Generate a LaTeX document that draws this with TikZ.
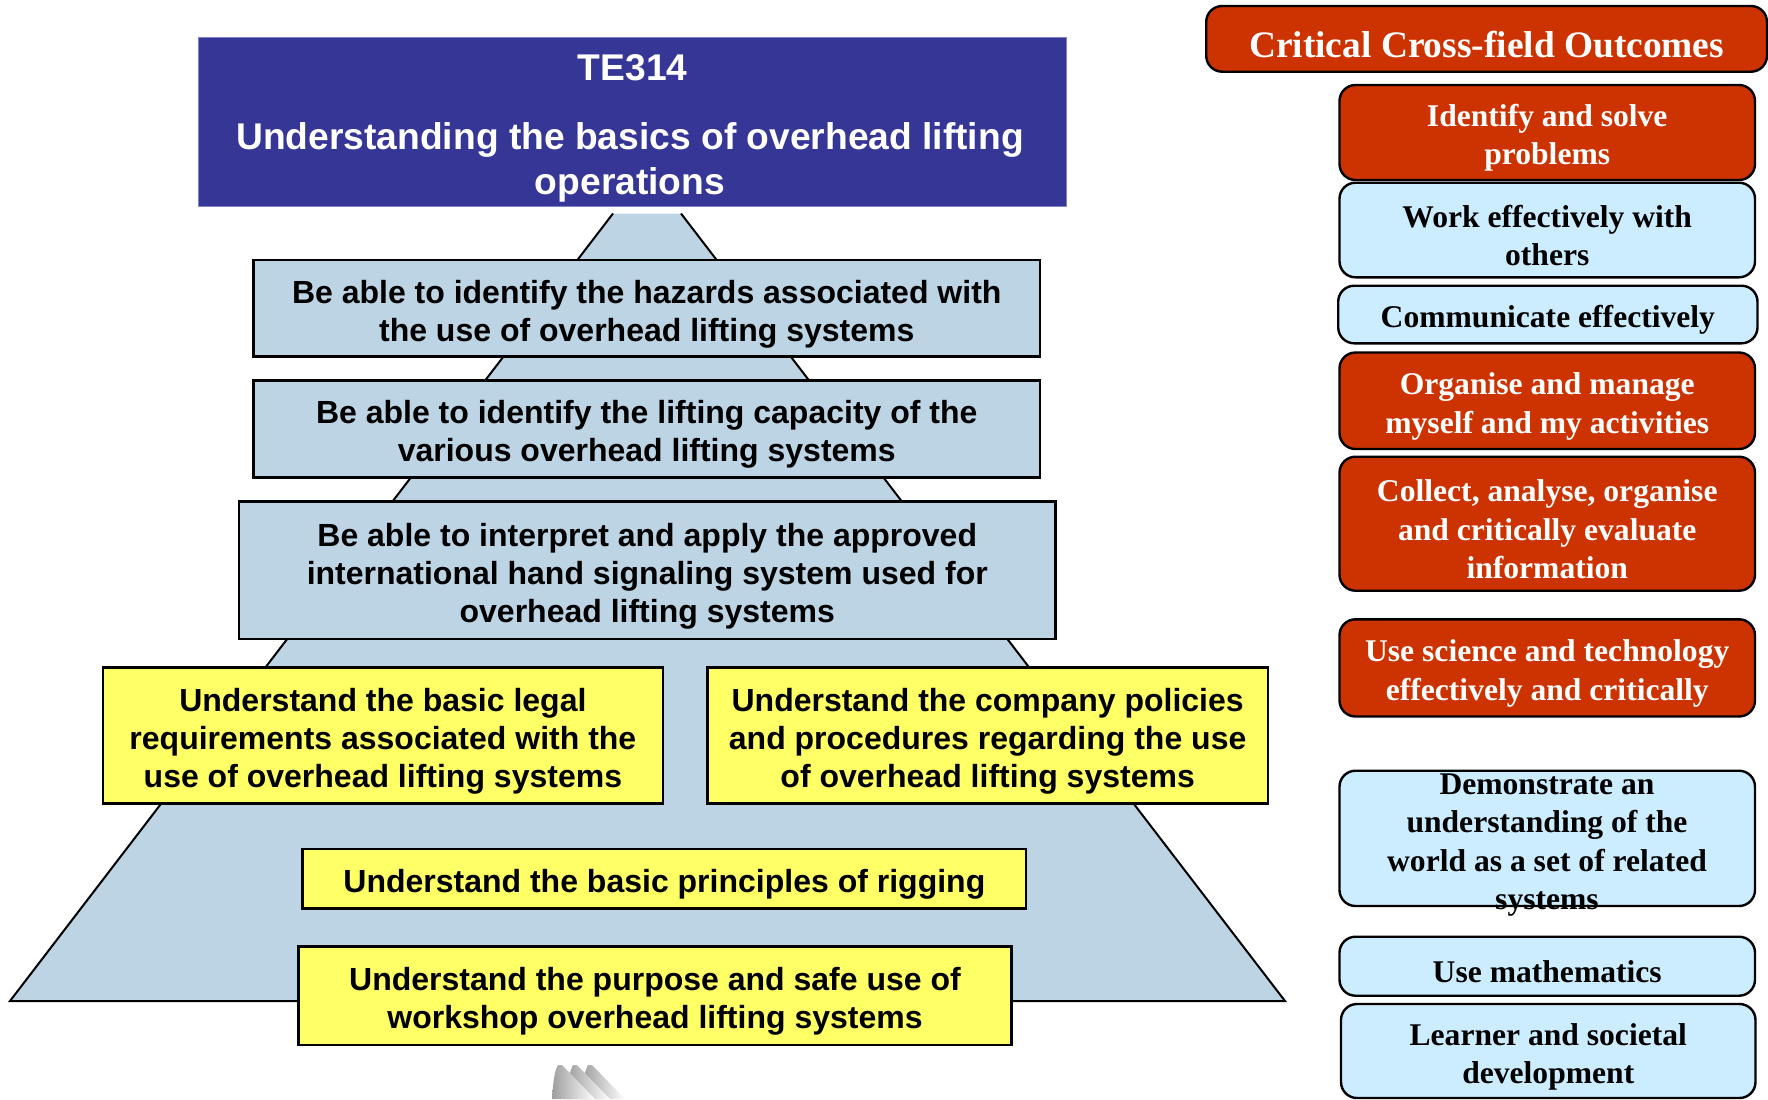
\documentclass[tikz,border=0pt]{standalone}
\usepackage{fontspec}
\setmainfont{Liberation Serif}
\setsansfont{Liberation Sans}
\definecolor{titleblue}{RGB}{54,54,150}
\definecolor{titleedge}{RGB}{130,130,200}
\definecolor{pyr}{RGB}{188,212,228}
\definecolor{yel}{RGB}{255,255,102}
\definecolor{cred}{RGB}{204,51,0}
\definecolor{lblue}{RGB}{204,236,255}
% box node plus its text node: style, text style, name, x1, y1, x2, y2 (text as 8th via next arg)
\newcommand\obox[8]{%
  \node[#1, corners={#4}{#5}{#6}{#7}] (#3) {};
  \node[#2] (#3-t) at ([yshift=-2.8pt]#3.center) {#8};}
\begin{document}
\begin{tikzpicture}[x=0.5pt,y=-0.5pt,
  corners/.style n args={4}{minimum width={0.5pt*(#3-#1)}, minimum height={0.5pt*(#4-#2)},
    at={({(#1+#3)/2},{(#2+#4)/2})}},
  sq/.style={inner sep=0pt, line width=1.3pt, draw=black},
  sqt/.style={inner sep=0pt, align=center, font=\sffamily\bfseries\fontsize{16}{19}\selectfont},
  pbox/.style={sq, fill=pyr},
  ybox/.style={sq, fill=yel},
  rbox/.style={inner sep=0pt, line width=1.2pt, draw=black, rounded corners=8pt},
  rt/.style={inner sep=0pt, align=center, font=\rmfamily\bfseries\fontsize{15.8}{19.1}\selectfont},
  redt/.style={rt, text=white},
  redbox/.style={rbox, fill=cred},
  bluebox/.style={rbox, fill=lblue},
  titletext/.style={text=white, align=center, inner sep=0pt,
    font=\sffamily\bfseries\fontsize{18.6}{22.4}\selectfont},
  swoosh/.style={left color=black!38, right color=white, draw=none}
]
\useasboundingbox (0,0) rectangle (1768,1099);

% pyramid
\fill[pyr] (613,213.5) -- (681,213.5) -- (1285,1001) -- (10,1001) -- cycle;
\draw[line width=1pt, line join=miter] (613,213.5) -- (10,1001) -- (1285,1001) -- (681,213.5);

% title
\node[fill=titleblue, draw=titleedge, line width=0.6pt, inner sep=0pt,
  corners={198.5}{37.2}{1066.7}{206.4}] (title) {};
\node[titletext] (te) at (632.6,68) {TE314};
\node[titletext] (tt) at (630,162) {Understanding the basics of overhead lifting\\operations};

% pyramid boxes
\obox{pbox}{sqt}{hz}{253.5}{260}{1040}{356.7}{Be able to identify the hazards associated with\\the use of overhead lifting systems}
\obox{pbox}{sqt}{cap}{253.5}{380.5}{1040}{477.5}{Be able to identify the lifting capacity of the\\various overhead lifting systems}
\obox{pbox}{sqt}{sig}{239}{501.7}{1055.5}{639}{Be able to interpret and apply the approved\\international hand signaling system used for\\overhead lifting systems}
\obox{ybox}{sqt}{leg}{102.8}{667.7}{663}{803.3}{Understand the basic legal\\requirements associated with the\\use of overhead lifting systems}
\obox{ybox}{sqt}{pol}{707.3}{667.7}{1268}{803.3}{Understand the company policies\\and procedures regarding the use\\of overhead lifting systems}
\obox{ybox}{sqt}{rig}{302.7}{849}{1026}{908.5}{Understand the basic principles of rigging}
\obox{ybox}{sqt}{pur}{298.5}{946.7}{1011.5}{1045}{Understand the purpose and safe use of\\workshop overhead lifting systems}

% swoosh at bottom
\foreach \L in {582,567,552}{
  \path[swoosh] (\L,1099) .. controls (\L+1,1085) and (\L+2,1072) .. (\L+6,1065)
    -- (\L+10,1065) -- (\L+43,1099) -- cycle;
}

% critical cross-field outcomes
\obox{redbox}{redt, font=\rmfamily\bfseries\fontsize{18.7}{22.5}\selectfont}{ccfo}{1206.2}{6}{1767}{71.7}{Critical Cross-field Outcomes}
\obox{redbox}{redt}{is}{1339.5}{85}{1755}{180}{Identify and solve\\problems}
\obox{bluebox}{rt}{we}{1339.5}{182.7}{1755}{277.3}{Work effectively with\\others}
\obox{bluebox}{rt}{ce}{1338.2}{285.7}{1757.5}{343.3}{Communicate effectively}
\obox{redbox}{redt}{om}{1339.5}{352.5}{1755}{449}{Organise and manage\\myself and my activities}
\obox{redbox}{redt}{ca}{1339.5}{456.7}{1755}{590.7}{Collect, analyse, organise\\and critically evaluate\\information}
\obox{redbox}{redt}{us}{1339.5}{619.3}{1755}{716.5}{Use science and technology\\effectively and critically}
\node[bluebox, corners={1339.5}{770.7}{1755}{906}] (du) {};
\node[rt] (du-t) at (1547,845) {Demonstrate an\\understanding of the\\world as a set of related\\systems};
\obox{bluebox}{rt}{um}{1339.5}{936.7}{1755}{995.7}{Use mathematics}
\obox{bluebox}{rt}{ls}{1341}{1004}{1755.5}{1098}{Learner and societal\\development}
\end{tikzpicture}
\end{document}
